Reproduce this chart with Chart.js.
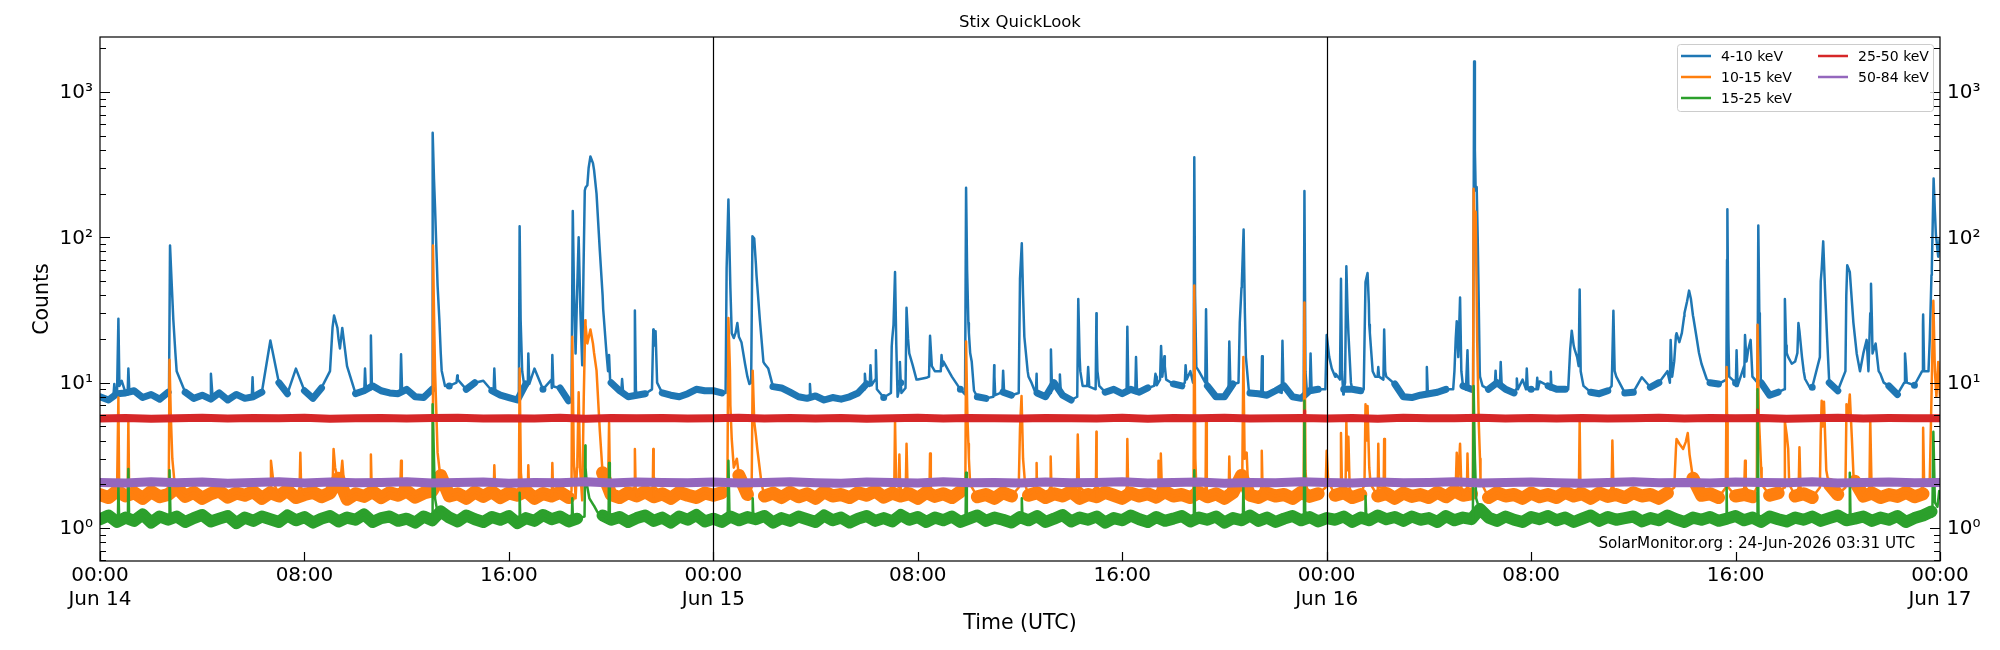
<!DOCTYPE html>
<html>
<head>
<meta charset="utf-8">
<title>Stix QuickLook</title>
<script src="https://cdn.jsdelivr.net/npm/chart.js@4.4.1/dist/chart.umd.min.js"></script>
<style>
  html, body { margin: 0; padding: 0; background: #fff; }
  canvas { display: block; }
</style>
</head>
<body>
<canvas id="stixChart" width="2000" height="650"></canvas>
<script>
// Time axis: hours since Jun 14 00:00 UTC
const gridHours = Array.from({ length: 217 }, (_, i) => i / 3);   // 20 min steps
const hourlyHours = Array.from({ length: 73 }, (_, i) => i);

const seriesLabels = ['4-10 keV', '10-15 keV', '15-25 keV', '25-50 keV', '50-84 keV'];
const seriesColors = ['#1f77b4', '#ff7f0e', '#2ca02c', '#d62728', '#9467bd'];

const xTickHours = [0, 8, 16, 24, 32, 40, 48, 56, 64, 72];
const xTickLabels = [['00:00', 'Jun 14'], '08:00', '16:00', ['00:00', 'Jun 15'], '08:00', '16:00',
  ['00:00', 'Jun 16'], '08:00', '16:00', ['00:00', 'Jun 17']];
const yTickValues = [1, 10, 100, 1000];
const yTickLabels = ['10\u2070', '10\u00b9', '10\u00b2', '10\u00b3'];
const daySplits = [24, 48];

// 4-10 keV, 20 min grid (one row = 3 hours)
const counts4to10 = [
  8.0, 7.6, 8.4, 8.5, 8.8, 7.9, 8.3, 7.7, 8.6,      // 00-03 Jun 14
  12, 8.6, 7.8, 8.2, 7.7, 8.5, 7.6, 8.3, 7.8,
  8.0, 8.6, 19.5, 10, 8.4, 12.5, 8.8, 7.8, 9.2,
  12, 20, 13, 8.4, 8.8, 9.5, 8.8, 8.5, 8.4,
  9.0, 8.0, 7.9, 9.0, 16, 9.5, 10.5, 9.0, 10.0,
  10.3, 8.8, 8.2, 7.9, 7.6, 9.8, 12.5, 9.0, 10.5,
  9.2, 7.5, 40, 220, 290, 40, 10, 8.8, 8.0,
  8.2, 8.4, 20, 8.5, 8.2, 8.0, 8.4, 9.0, 8.8,
  8.8, 8.5, 45, 20.7, 11, 65, 13.5, 9.4, 9.2,      // 00-03 Jun 15
  8.6, 8.0, 7.8, 8.1, 7.6, 7.9, 7.7, 8.0, 8.5,
  9.8, 10.5, 7.9, 20, 10, 15.9, 10.5, 10.8, 12,
  14, 11, 9.0, 22, 8.0, 7.8, 11, 8.6, 8.2,
  52, 11, 8.5, 8.0, 10, 8.2, 7.6, 15, 12.8,
  20, 8.6, 9.0, 8.4, 9.0, 8.6, 9.2, 11, 13,
  9.8, 9.5, 12, 12, 9.5, 8.0, 8.0, 9.8, 45,
  8.5, 8.4, 8.2, 8.8, 9.5, 8.0, 7.8, 8.8, 9.0,
  21.3, 11, 9, 9.0, 8.8, 25, 11.5, 11, 9.8,        // 00-03 Jun 16
  8.0, 7.9, 8.2, 8.4, 8.6, 9.0, 12, 9.5, 9.0,
  11, 9.0, 10, 9.0, 8.5, 10.5, 9.0, 10.2, 9.5,
  9.0, 9.0, 18, 10.5, 8.6, 8.4, 8.8, 11, 8.5,
  8.6, 10.9, 9.3, 10, 12, 21, 30, 29, 13.5,
  10, 9.8, 70, 10, 13, 11, 10, 8.2, 8.6,
  16, 14, 12, 9.3, 50, 10, 8.8, 40, 21,
  15.9, 28, 11.5, 9.5, 8.3, 13, 9.6, 25, 55,
  80
];
// short flares between grid points: [hour, counts]
const spikes4to10 = [
  [0.53, 8.3], [0.56, 9.8], [0.6, 8.2], [0.69, 8.4], [0.72, 27.5], [0.76, 9.5], [0.85, 10.3],
  [1.08, 8.3], [1.11, 12.5], [1.15, 8.6],
  [2.7, 8.6], [2.74, 88], [2.8, 50.5], [2.87, 27], [2.95, 16],
  [4.3, 7.9], [4.34, 11.5], [4.4, 8.2], [5.94, 8.0], [5.97, 10.9], [6.01, 8.1],
  [9.1, 24], [9.16, 29], [9.29, 23.8], [9.39, 17.2], [9.48, 23.8], [9.55, 19],
  [10.34, 8.6], [10.37, 12.5], [10.41, 8.8], [10.57, 9], [10.6, 21.1], [10.64, 9.4],
  [11.75, 8.6], [11.78, 15.7], [11.82, 8.9],
  [13.005, 9], [13.03, 525], [13.07, 250], [13.11, 161], [13.21, 46.6], [13.28, 27], [13.37, 12.1], [13.5, 9.5],
  [13.95, 10], [13.98, 11.2], [15.4, 8.5], [15.43, 12.5], [15.47, 8.6],
  [16.39, 7.8], [16.42, 119], [16.46, 27], [16.52, 12], [16.6, 9.6], [16.74, 9.6], [16.76, 15.9], [16.8, 9.8],
  [17.68, 9.2], [17.7, 15.5], [17.74, 9.4],
  [18.45, 7.4], [18.5, 152], [18.55, 40], [18.61, 15.9], [18.73, 100], [18.8, 30], [18.87, 13.2], [18.92, 60],
  [18.97, 210], [19.07, 228], [19.12, 300], [19.19, 360], [19.29, 324], [19.43, 199], [19.56, 80], [19.69, 32],
  [19.82, 15.9], [19.88, 12], [19.92, 15.5], [19.96, 10.5],
  [20.4, 8.8], [20.43, 10.6], [20.47, 8.6], [20.9, 8.0], [20.93, 31.4], [20.97, 9.0],
  [21.6, 9], [21.65, 23.2], [21.7, 18], [21.74, 22.6], [21.8, 10],
  [24.48, 8.5], [24.52, 61], [24.59, 182], [24.65, 61], [24.72, 21.9], [24.8, 20.3], [24.87, 22], [24.94, 25.7],
  [25.1, 19], [25.24, 13.5], [25.41, 9.8], [25.48, 10], [25.53, 101.6], [25.6, 98], [25.69, 54.6], [25.82, 27.2],
  [25.96, 13.9], [26.15, 12.5], [26.35, 9.3],
  [27.75, 8.0], [27.78, 9.8], [27.81, 8.0],
  [29.9, 9], [29.93, 11.5], [29.97, 9.5], [30.12, 9.5], [30.15, 13.2], [30.19, 9.6], [30.36, 16.7], [30.4, 9.0],
  [30.95, 8.5], [30.98, 17.7], [31.05, 25], [31.11, 57.8], [31.16, 18], [31.21, 8.0], [31.27, 9], [31.3, 13.9],
  [31.36, 8.5], [31.52, 9.2], [31.56, 32.8], [31.62, 20], [31.8, 13.2], [31.95, 10.5],
  [32.44, 11], [32.48, 21], [32.55, 13], [32.9, 12], [32.93, 15.5], [32.97, 13],
  [33.85, 8.3], [33.89, 219], [33.93, 60], [33.98, 25.7], [34.05, 16], [34.11, 14], [34.2, 8.8],
  [34.96, 8], [34.99, 13.2], [35.03, 8.2], [35.31, 8.6], [35.34, 12.1], [35.38, 8.5],
  [35.95, 8.5], [36.07, 91], [36.12, 40], [36.17, 20.7], [36.3, 12], [36.45, 10],
  [36.62, 8.4], [36.65, 11.5], [36.69, 8.5], [37.18, 8.5], [37.21, 16.9], [37.25, 9.5],
  [37.53, 8.5], [37.56, 11.4], [37.6, 8.4],
  [38.24, 8], [38.28, 37.6], [38.36, 12], [38.45, 9.5], [38.63, 9.5], [38.67, 12.8], [38.71, 9.4],
  [38.96, 9], [38.99, 30], [39.03, 12], [39.1, 9.5],
  [40.17, 8.5], [40.2, 24.3], [40.24, 9], [40.51, 8.5], [40.54, 15], [40.58, 8.6],
  [41.25, 9.5], [41.3, 11.5], [41.35, 9.6], [41.48, 10.5], [41.52, 17.9], [41.57, 11], [41.65, 15.2], [41.72, 10.5],
  [42.45, 10], [42.48, 13.2], [42.52, 10.5],
  [42.77, 10], [42.8, 20], [42.82, 356], [42.85, 40], [42.9, 12.8],
  [43.25, 10], [43.28, 32], [43.32, 10], [44.16, 9], [44.19, 19.2], [44.23, 10],
  [44.55, 10], [44.6, 26], [44.68, 47.9], [44.75, 113], [44.8, 30], [44.84, 15], [44.95, 9],
  [45.44, 8.5], [45.47, 15.2], [45.5, 8.5], [46.24, 8.5], [46.27, 19.4], [46.31, 9],
  [47.1, 7.8], [47.13, 208], [47.17, 12], [47.22, 9], [47.34, 8.5], [47.37, 15.9], [47.41, 9],
  [47.95, 9], [48.1, 15], [48.2, 12.5], [48.35, 11.5],
  [48.52, 10.5], [48.56, 51.9], [48.6, 12], [48.65, 8.3], [48.72, 10], [48.77, 63.3], [48.82, 30], [48.85, 22], [48.95, 10],
  [49.45, 9], [49.52, 49.2], [49.6, 56.8], [49.65, 35], [49.69, 22], [49.8, 12], [49.9, 11],
  [49.99, 11], [50.02, 12.8], [50.05, 11], [50.22, 10.5], [50.25, 23.2], [50.29, 12],
  [51.89, 8.2], [51.92, 12.8], [51.96, 8.4],
  [52.95, 9], [53.05, 20], [53.09, 26.5], [53.15, 15], [53.22, 38.6], [53.27, 12], [53.45, 9], [53.51, 16.7], [53.55, 9],
  [53.73, 9], [53.77, 1622], [53.8, 400], [53.83, 210], [53.87, 222], [53.91, 100], [53.95, 35.6], [53.99, 12], [54.1, 9.5],
  [54.58, 9.5], [54.61, 12.1], [54.64, 9.6], [54.78, 9.5], [54.81, 13.9], [54.85, 9.5],
  [55.41, 9], [55.44, 10.7], [55.48, 9], [55.8, 9], [55.83, 12.5], [55.87, 9],
  [56.21, 9], [56.24, 10.8], [56.27, 9], [56.74, 9], [56.77, 11.9], [56.8, 9],
  [57.45, 9], [57.53, 17], [57.59, 22.8], [57.7, 17], [57.8, 15], [57.86, 13], [57.9, 43.7], [57.94, 12], [58.05, 9.5],
  [59.15, 9.5], [59.17, 12.5], [59.22, 31.3], [59.27, 12],
  [61.43, 10], [61.46, 19.7], [61.52, 11], [61.6, 14], [61.69, 21.9], [61.8, 19], [61.9, 22], [61.99, 28.7],
  [62.1, 36], [62.18, 43], [62.25, 38], [62.35, 28], [62.47, 20.7], [62.57, 16], [62.87, 10.6],
  [63.64, 10.5], [63.68, 156], [63.72, 20], [63.75, 11], [64.01, 9.5], [64.04, 16.7], [64.08, 9.5],
  [64.34, 11], [64.37, 21.3], [64.43, 14], [64.5, 17], [64.59, 19.7], [64.66, 11],
  [64.86, 10], [64.89, 120.7], [64.93, 30], [64.95, 27], [64.99, 10],
  [65.9, 9], [65.93, 37.6], [65.98, 18], [66.06, 15], [66.2, 13.5], [66.42, 16], [66.46, 25.7], [66.5, 22.6],
  [66.6, 15], [66.72, 10.6], [66.9, 9.3],
  [67.3, 15], [67.37, 60], [67.43, 93.8], [67.5, 44], [67.58, 20.7], [67.69, 9.5],
  [68.3, 12], [68.37, 64.3], [68.47, 57.8], [68.61, 26], [68.74, 15.9], [68.87, 12], [69.13, 19.7], [69.2, 12],
  [69.27, 30], [69.3, 47.9], [69.36, 15.9], [69.48, 18.6], [69.6, 12], [69.8, 10],
  [70.6, 10], [70.63, 15.9], [70.7, 10], [71.3, 12], [71.34, 29.4], [71.38, 12],
  [71.55, 12], [71.6, 20], [71.68, 61], [71.75, 254], [71.8, 150], [71.84, 104], [71.93, 73.6], [71.99, 98.8]
];

// 10-15 keV, 20 min grid
const counts10to15 = [
  1.7, 1.62, 1.8, 1.66, 1.75, 1.6, 1.78, 1.64, 1.7,
  1.9, 1.65, 1.76, 1.6, 1.72, 1.8, 1.63, 1.74, 1.68,
  1.78, 1.6, 1.75, 1.66, 1.82, 1.62, 1.7, 1.76, 1.64,
  1.74, 2.2, 1.58, 1.72, 1.65, 1.78, 1.62, 1.75, 1.68,
  1.8, 1.63, 1.74, 1.8, 2.3, 1.66, 1.72, 1.6, 1.77,
  1.65, 1.78, 1.62, 1.74, 1.68, 1.8, 1.6, 1.73, 1.66,
  1.76, 1.62, 2.6, 25, 16, 2.4, 1.7, 1.62, 1.75,
  1.66, 1.78, 1.64, 1.72, 1.6, 1.76, 1.68, 1.62, 1.74,
  1.68, 1.75, 7, 2.3, 1.7, 4.3, 1.66, 1.74, 1.62,
  1.76, 1.64, 1.72, 1.6, 1.78, 1.66, 1.7, 1.62, 1.75,
  1.68, 1.8, 1.63, 1.74, 1.66, 1.72, 1.6, 1.76, 1.65,
  1.72, 1.62, 1.78, 3.0, 1.64, 1.7, 1.6, 1.75, 1.66,
  4.87, 1.68, 1.75, 1.62, 1.72, 1.66, 1.78, 1.6, 1.7,
  1.64, 1.76, 1.68, 1.6, 1.74, 1.66, 1.72, 1.63, 1.78,
  1.66, 1.7, 1.62, 1.76, 1.64, 1.72, 1.6, 1.75, 2.3,
  1.68, 1.62, 1.74, 1.66, 1.7, 1.6, 1.76, 1.65, 1.72,
  3.4, 1.68, 1.75, 1.62, 1.7, 2.6, 1.66, 1.73, 1.6,
  1.74, 1.65, 1.7, 1.62, 1.76, 1.64, 1.8, 1.68, 1.72,
  3.0, 1.62, 1.75, 1.66, 1.7, 1.6, 1.74, 1.64, 1.7,
  1.62, 1.76, 1.66, 1.72, 1.6, 1.74, 1.65, 1.7, 1.62,
  1.75, 1.66, 1.7, 1.6, 1.74, 3.5, 3.7, 2.2, 1.68,
  1.72, 1.62, 6, 1.66, 1.7, 1.64, 2.6, 1.68, 1.74,
  4.4, 1.66, 1.72, 1.62, 4.5, 2.0, 1.7, 5.5, 2.1,
  1.66, 1.74, 1.62, 1.7, 1.65, 1.76, 1.64, 1.72, 7.9,
  8
];
const spikes10to15 = [
  [0.69, 1.8], [0.72, 7.9], [0.75, 1.8], [1.08, 1.8], [1.11, 5.5], [1.14, 1.8],
  [2.69, 1.8], [2.72, 14.4], [2.77, 6], [2.83, 3], [2.9, 2.2],
  [6.6, 1.9], [6.69, 2.9], [6.78, 2.1], [7.81, 1.9], [7.84, 3.3], [7.87, 1.9],
  [9.1, 1.9], [9.14, 3.5], [9.2, 2.6], [9.3, 2.2], [9.42, 2.2], [9.48, 2.9], [9.55, 2.0],
  [10.57, 1.9], [10.6, 3.2], [10.63, 1.9], [11.75, 1.9], [11.78, 2.9], [11.81, 1.9],
  [13.03, 88], [13.07, 30], [13.11, 12.1], [13.21, 3.3], [13.3, 2.4], [13.45, 2.0],
  [15.41, 1.9], [15.43, 2.7], [15.46, 1.9],
  [16.39, 1.8], [16.42, 12.5], [16.47, 2.4], [16.52, 1.9], [16.74, 1.8], [16.76, 2.7], [16.79, 1.8],
  [17.68, 1.8], [17.7, 2.8], [17.73, 1.8],
  [18.45, 1.8], [18.48, 20.7], [18.54, 3], [18.61, 1.6], [18.68, 3], [18.73, 8.6], [18.79, 2.5], [18.87, 1.55],
  [18.93, 8], [18.99, 26.9], [19.07, 18.6], [19.19, 23.2], [19.29, 18.6], [19.43, 12.1], [19.56, 4.6],
  [19.69, 2.1], [19.8, 1.9], [19.88, 1.8], [19.92, 5.3], [19.96, 1.8],
  [20.91, 1.9], [20.93, 3.5], [20.96, 1.9], [21.63, 1.9], [21.65, 3.5], [21.69, 2.2], [21.72, 1.9],
  [24.55, 1.9], [24.59, 27.9], [24.65, 12.1], [24.72, 4.1], [24.8, 2.6], [24.92, 3.0], [25.1, 2.0],
  [25.5, 1.9], [25.54, 12.1], [25.6, 5.4], [25.72, 3.5], [25.89, 2.0],
  [31.08, 1.9], [31.11, 5.5], [31.15, 2.2], [31.25, 1.9], [31.28, 3.2], [31.31, 1.9],
  [31.53, 1.9], [31.56, 3.8], [31.6, 1.9], [32.46, 1.9], [32.48, 3.25], [32.51, 1.9],
  [33.86, 1.8], [33.89, 19.2], [33.94, 6], [33.98, 3.8], [34.05, 2.0],
  [35.95, 1.9], [36.06, 8.1], [36.12, 3], [36.2, 2.0],
  [36.63, 1.9], [36.65, 2.8], [36.68, 1.9], [37.18, 1.9], [37.2, 3.1], [37.23, 1.9],
  [38.23, 1.9], [38.26, 4.4], [38.3, 2.2], [38.35, 1.9], [38.97, 1.9], [38.99, 4.6], [39.02, 1.9],
  [40.18, 1.9], [40.2, 4.1], [40.23, 1.9],
  [41.4, 1.9], [41.42, 2.9], [41.46, 1.9], [41.49, 1.9], [41.51, 3.25], [41.55, 1.9],
  [42.79, 1.9], [42.82, 46.6], [42.86, 3], [42.9, 1.9], [43.26, 1.8], [43.28, 5.5], [43.31, 1.8],
  [44.17, 1.9], [44.19, 3.1], [44.22, 1.9],
  [44.65, 2.2], [44.7, 2.5], [44.74, 15], [44.79, 3], [44.87, 3.3], [44.92, 2.0],
  [45.44, 1.9], [45.46, 3.4], [45.49, 1.9],
  [47.1, 1.8], [47.13, 35.6], [47.17, 2.5], [47.22, 1.9], [47.96, 1.9], [48.06, 2.1],
  [48.53, 1.9], [48.56, 4.5], [48.6, 1.9], [48.74, 1.9], [48.77, 5.4], [48.81, 2.5], [48.85, 4.25], [48.9, 1.9],
  [49.48, 2.0], [49.52, 7.1], [49.56, 4], [49.6, 6.9], [49.65, 3.3], [49.72, 2.0],
  [50.0, 1.9], [50.02, 3.8], [50.05, 1.9], [50.23, 1.9], [50.25, 4.1], [50.28, 1.9],
  [53.05, 1.9], [53.09, 3.3], [53.15, 2.2], [53.22, 3.8], [53.27, 1.9], [53.49, 1.9], [53.51, 3.25], [53.54, 1.9],
  [53.72, 1.9], [53.75, 216], [53.8, 100], [53.83, 150], [53.89, 19.2], [53.95, 5.4], [54.02, 2.1],
  [57.87, 1.9], [57.9, 5.4], [57.93, 1.9], [59.15, 1.9], [59.18, 4.0], [59.22, 1.9],
  [61.6, 1.9], [61.69, 4.1], [61.8, 3.8], [61.95, 3.5], [62.05, 3.9], [62.13, 4.5], [62.2, 3.2], [62.35, 2.0],
  [63.62, 1.9], [63.65, 12.8], [63.69, 2.2], [63.72, 1.9], [64.34, 1.9], [64.37, 2.9], [64.4, 1.9],
  [64.83, 1.9], [64.86, 25], [64.91, 6], [64.95, 4.1], [65.02, 2.0],
  [65.9, 1.9], [65.93, 5.4], [66.06, 3.5], [66.1, 2.0], [66.47, 1.9], [66.5, 3.6], [66.54, 1.9],
  [67.3, 1.9], [67.37, 7.5], [67.42, 5], [67.46, 7.4], [67.55, 2.5], [67.65, 2.0],
  [68.3, 1.9], [68.34, 7.1], [68.4, 6], [68.47, 8.3], [68.55, 4.2], [68.62, 2.2], [68.7, 2.0],
  [69.24, 1.9], [69.27, 5.6], [69.32, 2.0], [71.3, 1.9], [71.34, 4.9], [71.38, 2.0],
  [71.6, 2.2], [71.74, 36.6], [71.8, 12], [71.86, 8], [71.93, 13.9], [71.97, 10]
];

// 15-25 keV, 20 min grid
const counts15to25 = [
  1.15, 1.22, 1.1, 1.18, 1.12, 1.24, 1.09, 1.2, 1.14,
  1.2, 1.1, 1.17, 1.23, 1.11, 1.16, 1.21, 1.08, 1.18,
  1.12, 1.2, 1.15, 1.1, 1.22, 1.13, 1.19, 1.09, 1.16,
  1.21, 1.11, 1.18, 1.14, 1.24, 1.1, 1.17, 1.2, 1.12,
  1.16, 1.09, 1.2, 1.13, 1.3, 1.18, 1.11, 1.22, 1.15,
  1.1, 1.19, 1.14, 1.21, 1.08, 1.17, 1.12, 1.23, 1.15,
  1.2, 1.11, 1.16, 2.6, 1.42, 1.22, 1.14, 1.19, 1.1,
  1.17, 1.22, 1.12, 1.18, 1.09, 1.2, 1.14, 1.23, 1.11,
  1.16, 1.1, 1.2, 1.13, 1.19, 1.15, 1.21, 1.09, 1.17,
  1.12, 1.2, 1.15, 1.1, 1.22, 1.13, 1.18, 1.09, 1.16,
  1.21, 1.12, 1.17, 1.11, 1.23, 1.14, 1.19, 1.1, 1.18,
  1.13, 1.2, 1.1, 1.16, 1.22, 1.12, 1.18, 1.14, 1.09,
  1.19, 1.13, 1.21, 1.1, 1.16, 1.23, 1.11, 1.18, 1.14,
  1.2, 1.09, 1.17, 1.13, 1.22, 1.15, 1.1, 1.19, 1.12,
  1.16, 1.21, 1.11, 1.18, 1.14, 1.2, 1.09, 1.17, 1.13,
  1.22, 1.12, 1.18, 1.1, 1.16, 1.21, 1.13, 1.19, 1.11,
  1.17, 1.14, 1.2, 1.1, 1.18, 1.13, 1.22, 1.15, 1.19,
  1.12, 1.2, 1.14, 1.17, 1.1, 1.21, 1.13, 1.18, 1.15,
  1.35, 1.18, 1.12, 1.2, 1.14, 1.1, 1.19, 1.15, 1.21,
  1.13, 1.18, 1.1, 1.16, 1.22, 1.12, 1.19, 1.14, 1.17,
  1.2, 1.11, 1.17, 1.13, 1.22, 1.15, 1.1, 1.18, 1.14,
  1.19, 1.12, 1.16, 1.21, 1.13, 1.18, 1.1, 1.2, 1.15,
  1.11, 1.18, 1.14, 1.2, 1.12, 1.17, 1.22, 1.13, 1.16,
  1.2, 1.12, 1.18, 1.14, 1.21, 1.1, 1.17, 1.22, 1.3,
  1.6
];
const spikes15to25 = [
  [0.7, 1.15], [0.72, 1.95], [0.75, 1.15], [1.09, 1.15], [1.11, 2.55], [1.14, 1.15],
  [2.7, 1.15], [2.72, 2.5], [2.76, 1.2],
  [13.0, 1.15], [13.03, 7.1], [13.08, 2.5], [13.11, 1.6], [13.2, 1.3],
  [16.4, 1.1], [16.42, 1.75], [16.45, 1.1], [18.46, 1.1], [18.48, 1.6], [18.51, 1.1],
  [18.96, 1.2], [18.99, 3.7], [19.05, 2.0], [19.15, 1.6], [19.3, 1.45], [19.45, 1.3], [19.6, 1.2],
  [19.9, 1.15], [19.92, 2.8], [19.95, 1.15], [24.56, 1.15], [24.59, 2.9], [24.63, 1.3],
  [25.52, 1.15], [25.54, 1.6], [25.57, 1.15], [33.87, 1.15], [33.89, 2.4], [33.92, 1.2],
  [36.04, 1.15], [36.07, 1.6], [36.1, 1.15], [42.8, 1.15], [42.82, 2.5], [42.85, 1.15],
  [44.72, 1.15], [44.74, 1.95], [44.77, 1.15], [47.11, 1.15], [47.13, 7.5], [47.16, 1.3],
  [49.5, 1.15], [49.52, 1.66], [49.55, 1.2],
  [53.72, 1.15], [53.75, 9.5], [53.8, 3], [53.85, 1.6], [53.95, 1.4], [54.1, 1.2],
  [63.63, 1.15], [63.65, 1.95], [63.68, 1.15], [64.84, 1.15], [64.86, 9.0], [64.9, 1.2],
  [68.45, 1.15], [68.47, 2.4], [68.5, 1.15],
  [71.7, 1.2], [71.74, 4.6], [71.8, 1.5], [71.9, 1.4], [71.97, 1.8]
];

// 25-50 keV, hourly
const counts25to50 = [
  5.68, 5.72, 5.65, 5.7, 5.74, 5.66, 5.71, 5.69, 5.73, 5.64, 5.7, 5.72,
  5.67, 5.71, 5.74, 5.66, 5.7, 5.68, 5.73, 5.65, 5.71, 5.69, 5.72, 5.67,
  5.7, 5.74, 5.66, 5.71, 5.68, 5.72, 5.65, 5.7, 5.73, 5.67, 5.71, 5.69,
  5.66, 5.72, 5.7, 5.68, 5.74, 5.65, 5.71, 5.69, 5.73, 5.66, 5.7, 5.72,
  5.68, 5.71, 5.65, 5.73, 5.69, 5.7, 5.74, 5.66, 5.71, 5.68, 5.72, 5.67,
  5.7, 5.73, 5.66, 5.71, 5.69, 5.72, 5.65, 5.7, 5.74, 5.68, 5.71, 5.69,
  5.7
];
const spikes25to50 = [[47.11, 5.7], [47.13, 6.4], [47.15, 5.7], [64.84, 5.7], [64.86, 6.5], [64.88, 5.7]];

// 50-84 keV, hourly
const counts50to84 = [
  2.06, 2.04, 2.08, 2.05, 2.07, 2.03, 2.06, 2.08, 2.04, 2.07, 2.05, 2.06,
  2.08, 2.04, 2.06, 2.07, 2.03, 2.06, 2.05, 2.08, 2.04, 2.07, 2.06, 2.05,
  2.07, 2.04, 2.06, 2.08, 2.05, 2.03, 2.07, 2.06, 2.04, 2.08, 2.05, 2.06,
  2.04, 2.07, 2.05, 2.06, 2.08, 2.04, 2.06, 2.07, 2.03, 2.06, 2.05, 2.08,
  2.06, 2.04, 2.07, 2.05, 2.06, 2.08, 2.04, 2.06, 2.07, 2.05, 2.03, 2.06,
  2.08, 2.05, 2.06, 2.04, 2.07, 2.06, 2.05, 2.08, 2.04, 2.06, 2.07, 2.05,
  2.06
];
const spikes50to84 = [];

Chart.defaults.font.family = "'DejaVu Sans', sans-serif";
Chart.defaults.color = '#000';

// grid values plus the short spikes, in time order
function withSpikes(hours, values, spikes) {
  const pts = values.map((v, i) => ({ x: hours[i], y: v }));
  spikes.forEach(p => pts.push({ x: p[0], y: p[1] }));
  return pts.sort((a, b) => a.x - b.x);
}

// thick background trace for the noisy baseline (dense samples in the original)
function baseBand(hours, values, cap) {
  return values.map((v, i) => ({ x: hours[i], y: v <= cap ? v : null }));
}

const series = [
  { hours: gridHours, values: counts4to10, spikes: spikes4to10, band: 7, cap: 10, order: 5 },
  { hours: gridHours, values: counts10to15, spikes: spikes10to15, band: 13, cap: 2.5, order: 4 },
  { hours: gridHours, values: counts15to25, spikes: spikes15to25, band: 12, cap: 1.36, order: 3 },
  { hours: hourlyHours, values: counts25to50, spikes: spikes25to50, band: 8, cap: 100, order: 2 },
  { hours: hourlyHours, values: counts50to84, spikes: spikes50to84, band: 9, cap: 100, order: 1 }
];

const datasets = [];
series.forEach((s, i) => {
  const common = {
    borderColor: seriesColors[i],
    pointRadius: 0,
    fill: false,
    tension: 0,
    spanGaps: false,
    borderJoinStyle: 'round',
    borderCapStyle: 'round',
    order: s.order
  };
  datasets.push(Object.assign({ label: seriesLabels[i], data: withSpikes(s.hours, s.values, s.spikes), borderWidth: 2.5 }, common));
  datasets.push(Object.assign({ label: '', data: baseBand(s.hours, s.values, s.cap), borderWidth: s.band }, common));
});

// title, frame, inward ticks, legend box and stamp
const decorations = {
  id: 'decorations',
  afterDatasetsDraw(chart) {
    const { ctx, chartArea: a, scales } = chart;
    const x = scales.x, y = scales.y;
    ctx.save();
    ctx.strokeStyle = '#000';
    ctx.lineWidth = 1.2;

    daySplits.forEach(h => {
      const px = Math.round(x.getPixelForValue(h)) + 0.5;
      ctx.beginPath(); ctx.moveTo(px, a.top); ctx.lineTo(px, a.bottom); ctx.stroke();
    });

    ctx.strokeRect(a.left, a.top, a.right - a.left, a.bottom - a.top);

    // log ticks on both sides
    for (let e = -1; e <= 3; e++) {
      for (let m = 1; m <= 9; m++) {
        const v = m * Math.pow(10, e);
        if (v < y.min || v > y.max) continue;
        const py = Math.round(y.getPixelForValue(v)) + 0.5;
        const len = m === 1 ? 10 : 6;
        ctx.beginPath();
        ctx.moveTo(a.left, py); ctx.lineTo(a.left + len, py);
        ctx.moveTo(a.right, py); ctx.lineTo(a.right - len, py);
        ctx.stroke();
      }
    }
    xTickHours.forEach(h => {
      const px = Math.round(x.getPixelForValue(h)) + 0.5;
      ctx.beginPath(); ctx.moveTo(px, a.bottom); ctx.lineTo(px, a.bottom - 9); ctx.stroke();
    });

    ctx.fillStyle = '#000';
    ctx.textBaseline = 'middle';
    ctx.textAlign = 'center';
    ctx.font = "16.5px 'DejaVu Sans'";
    ctx.fillText('Stix QuickLook', (a.left + a.right) / 2, a.top - 14);

    ctx.textAlign = 'right';
    ctx.font = "15.2px 'DejaVu Sans'";
    ctx.fillText('SolarMonitor.org : 24-Jun-2026 03:31 UTC', a.right - 25, a.bottom - 17);

    // legend, two columns
    const bx = a.right - 263, by = a.top + 7, bw = 256, bh = 67;
    ctx.fillStyle = 'rgba(255,255,255,0.8)';
    ctx.strokeStyle = '#cccccc';
    ctx.lineWidth = 1;
    ctx.beginPath();
    ctx.roundRect(bx + 0.5, by + 0.5, bw, bh, 3);
    ctx.fill(); ctx.stroke();
    ctx.font = "14px 'DejaVu Sans'";
    ctx.textAlign = 'left';
    seriesLabels.forEach((lab, i) => {
      const col = i < 3 ? 0 : 1;
      const row = i < 3 ? i : i - 3;
      const lx = bx + 4 + col * 137;
      const ly = by + 12 + row * 21;
      ctx.strokeStyle = seriesColors[i];
      ctx.lineWidth = 2.5;
      ctx.beginPath(); ctx.moveTo(lx, ly); ctx.lineTo(lx + 30, ly); ctx.stroke();
      ctx.fillStyle = '#000';
      ctx.fillText(lab, lx + 40, ly + 1);
    });
    ctx.restore();
  }
};

const yCommon = {
  type: 'logarithmic',
  min: 0.593,
  max: 2390,
  grid: { display: false, drawTicks: false },
  border: { display: false },
  afterBuildTicks: s => { s.ticks = yTickValues.map(v => ({ value: v })); },
  ticks: {
    autoSkip: false,
    padding: 7,
    labelOffset: 1,
    font: { size: 20 },
    callback: (v, i) => yTickLabels[i]
  }
};

new Chart(document.getElementById('stixChart'), {
  type: 'line',
  data: { datasets: datasets },
  options: {
    responsive: false,
    animation: false,
    devicePixelRatio: 1,
    layout: { padding: { top: 37, left: 0, right: 0, bottom: 0 } },
    plugins: { legend: { display: false }, tooltip: { enabled: false }, title: { display: false } },
    scales: {
      x: {
        type: 'linear',
        min: 0,
        max: 72,
        grid: { display: false, drawTicks: false },
        border: { display: false },
        afterBuildTicks: s => { s.ticks = xTickHours.map(v => ({ value: v })); },
        afterFit: s => { s.height = 89; },
        ticks: {
          autoSkip: false,
          maxRotation: 0,
          padding: 3,
          font: { size: 20 },
          callback: (v, i) => xTickLabels[i]
        },
        title: { display: true, text: 'Time (UTC)', font: { size: 20.5 }, padding: { top: 0, bottom: 14 } }
      },
      y: Object.assign({}, yCommon, {
        position: 'left',
        afterFit: s => { s.width = 100; },
        title: { display: true, text: 'Counts', font: { size: 20.5 }, padding: { top: 30, bottom: 0 } }
      }),
      y2: Object.assign({}, yCommon, {
        position: 'right',
        afterFit: s => { s.width = 60; }
      })
    }
  },
  plugins: [decorations]
});
</script>
</body>
</html>
